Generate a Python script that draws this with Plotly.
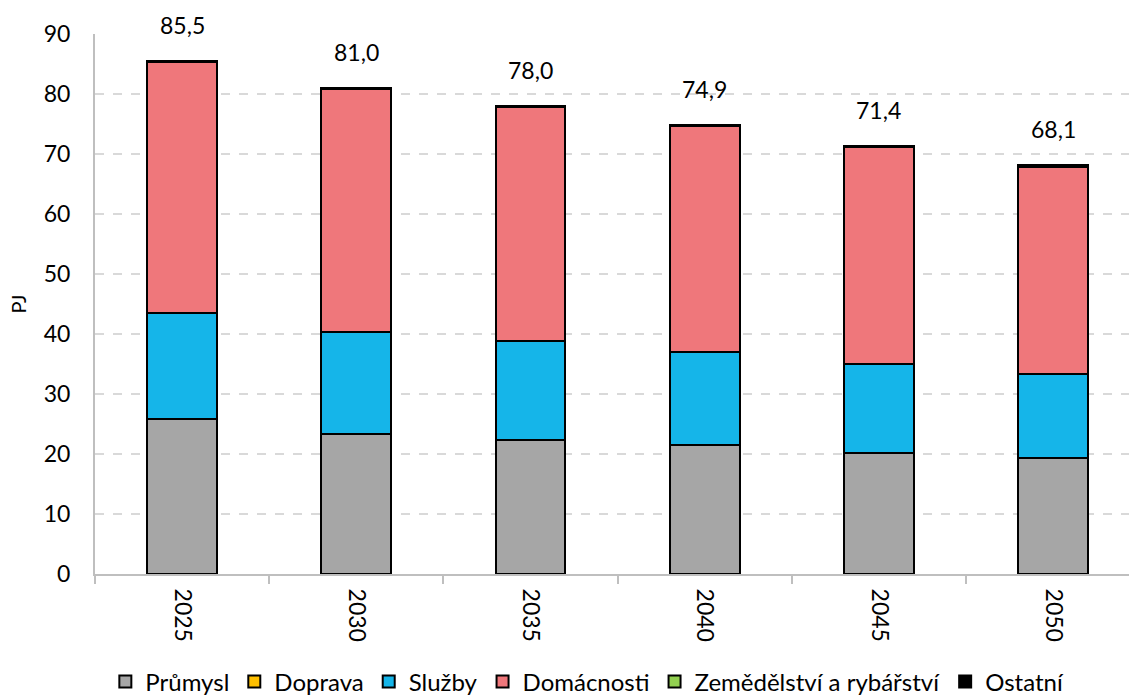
import plotly.graph_objects as go

# Final energy consumption by sector, PJ
years = ["2025", "2030", "2035", "2040", "2045", "2050"]
prumysl = [25.8, 23.3, 22.4, 21.5, 20.2, 19.4]
doprava = [0.0, 0.0, 0.0, 0.0, 0.0, 0.0]
sluzby = [17.7, 17.0, 16.4, 15.5, 14.8, 13.9]
domacnosti = [41.8, 40.5, 39.0, 37.7, 36.2, 34.6]
zemedelstvi = [0.0, 0.0, 0.0, 0.0, 0.0, 0.0]
ostatni = [0.2, 0.2, 0.2, 0.2, 0.2, 0.2]

series = [
    ("Průmysl", prumysl, "#A6A6A6"),
    ("Doprava", doprava, "#FFC000"),
    ("Služby", sluzby, "#15B5E9"),
    ("Domácnosti", domacnosti, "#EF777B"),
    ("Zemědělství a rybářství", zemedelstvi, "#92D050"),
    ("Ostatní", ostatni, "#000000"),
]

FONT = "Lato"
fig = go.Figure()
for name, vals, color in series:
    fig.add_trace(go.Bar(
        x=years, y=vals, name=name,
        marker=dict(color=color, line=dict(color="#000000", width=2)),
    ))

# Total above each stacked column (category axis -> use category index)
totals = [sum(v) for v in zip(prumysl, doprava, sluzby, domacnosti, zemedelstvi, ostatni)]
for i, tot in enumerate(totals):
    fig.add_annotation(
        x=i, y=tot, xref="x", yref="y",
        text=f"{tot:.1f}".replace(".", ","),
        showarrow=False, yanchor="bottom", yshift=20,
        font=dict(family=FONT, size=23, color="#000000"),
    )

fig.update_layout(
    barmode="stack",
    bargap=0.6,
    width=1129, height=695,
    margin=dict(l=95, r=0, t=34, b=121, autoexpand=False),
    plot_bgcolor="#FFFFFF", paper_bgcolor="#FFFFFF",
    font=dict(family=FONT, size=23, color="#000000"),
    showlegend=True,
    legend=dict(
        orientation="h", x=0.01, xanchor="left", y=-0.2, yanchor="middle",
        font=dict(family=FONT, size=24), traceorder="normal",
        itemwidth=30,
    ),
    xaxis=dict(
        type="category", range=[-0.5, 5.435],
        showline=True, linecolor="#BFBFBF", linewidth=2,
        ticks="outside", tickson="boundaries", ticklen=8, tickcolor="#BFBFBF", tickwidth=2,
        tickangle=90, tickfont=dict(family=FONT, size=23),
        ticklabelstandoff=8,
        showgrid=False,
    ),
    yaxis=dict(
        range=[0, 90], dtick=10,
        showline=True, linecolor="#BFBFBF", linewidth=2,
        gridcolor="#D9D9D9", griddash="dash", gridwidth=1.5,
        ticks="", tickfont=dict(family=FONT, size=23),
        ticklabelstandoff=18,
        title=dict(text="PJ", font=dict(family=FONT, size=20), standoff=12),
        zeroline=False,
    ),
)

fig.write_html("out.html")
